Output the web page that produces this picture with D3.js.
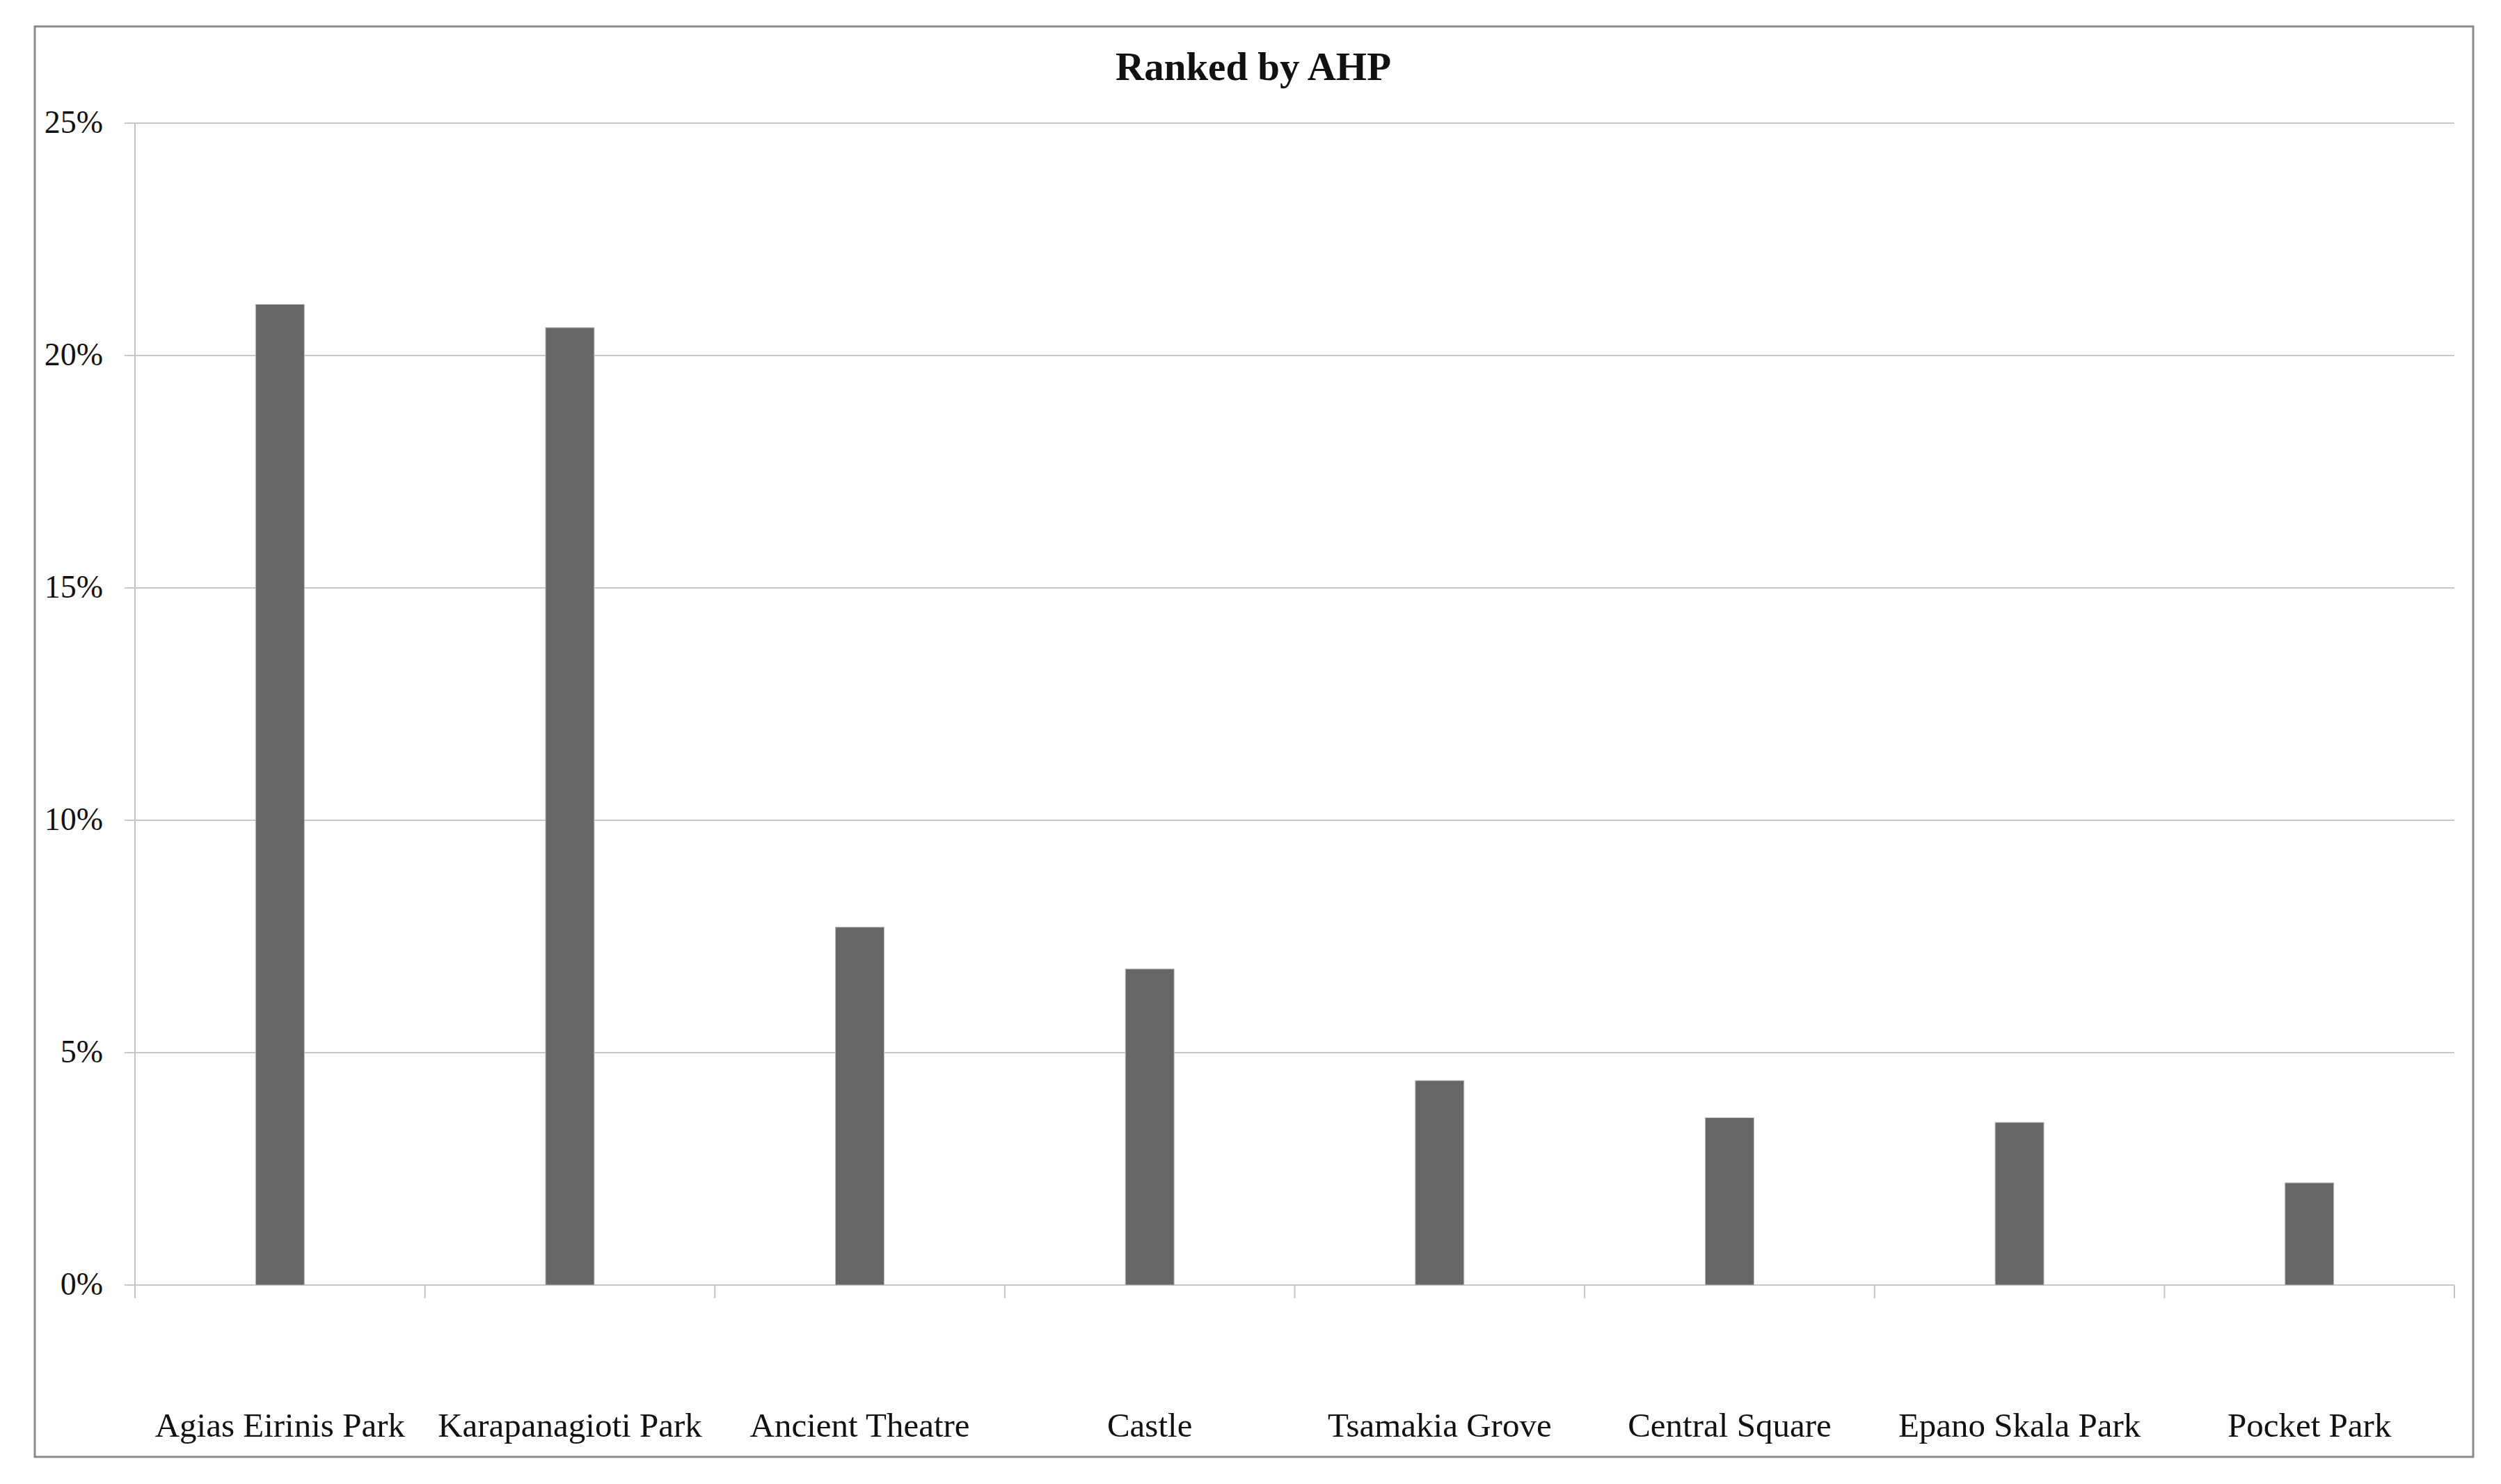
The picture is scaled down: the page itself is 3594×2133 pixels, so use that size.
<!DOCTYPE html>
<html>
<head>
    <title>Ranked by AHP</title>
    <script src="https://d3js.org/d3.v7.min.js"></script>
    <style>
        body { margin: 0; background: #fff; }
        text { font-family: "Liberation Serif", "Times New Roman", serif; fill: #111; }
        .grid line { stroke: #c8c8c8; stroke-width: 2px; }
        .bar { fill: #666666; stroke: #bdbdbd; stroke-width: 1px; }
    </style>
</head>
<body>
    <div id="chart"></div>

    <script>
        // chart data
        let sites = ["Agias Eirinis Park", "Karapanagioti Park", "Ancient Theatre", "Castle",
                     "Tsamakia Grove", "Central Square", "Epano Skala Park", "Pocket Park"];
        let ahpWeights = [21.1, 20.6, 7.7, 6.8, 4.4, 3.6, 3.5, 2.2];
        let yTicks = [0, 5, 10, 15, 20, 25];

        let width = 3594, height = 2133;
        let plotLeft = 194, plotRight = 3527, plotTop = 177, plotBottom = 1847;

        let svg = d3.select("#chart").append("svg")
            .attr("width", width)
            .attr("height", height);

        // outer frame
        svg.append("rect")
            .attr("x", 50).attr("y", 38)
            .attr("width", 3504).attr("height", 2056)
            .attr("fill", "#fff")
            .attr("stroke", "#8c8c8c")
            .attr("stroke-width", 3);

        let x = d3.scaleBand().domain(sites).range([plotLeft, plotRight]).padding(0);
        let y = d3.scaleLinear().domain([0, 25]).range([plotBottom, plotTop]);

        // horizontal gridlines with small outward ticks
        svg.append("g")
            .attr("class", "grid")
            .selectAll("line")
            .data(yTicks)
            .enter().append("line")
            .attr("x1", plotLeft - 15)
            .attr("x2", plotRight)
            .attr("y1", d => y(d))
            .attr("y2", d => y(d));

        // y axis line
        svg.append("line")
            .attr("x1", plotLeft).attr("x2", plotLeft)
            .attr("y1", y(25)).attr("y2", plotBottom + 19)
            .attr("stroke", "#c4c4c4").attr("stroke-width", 2);

        // y labels
        svg.append("g")
            .selectAll("text")
            .data(yTicks)
            .enter().append("text")
            .attr("x", 148)
            .attr("y", d => y(d))
            .attr("dy", "0.3em")
            .attr("text-anchor", "end")
            .style("font-size", "46px")
            .text(d => d + "%");

        // x axis category boundary ticks
        let bounds = sites.map(s => x(s)).concat([plotRight]);
        svg.append("g")
            .selectAll("line")
            .data(bounds)
            .enter().append("line")
            .attr("x1", d => d).attr("x2", d => d)
            .attr("y1", plotBottom).attr("y2", plotBottom + 19)
            .attr("stroke", "#c4c4c4").attr("stroke-width", 2);

        // bars
        let barW = x.bandwidth() * 0.168;
        svg.append("g")
            .selectAll("rect")
            .data(ahpWeights)
            .enter().append("rect")
            .attr("class", "bar")
            .attr("x", (d, i) => x(sites[i]) + x.bandwidth() / 2 - barW / 2)
            .attr("width", barW)
            .attr("y", d => y(d))
            .attr("height", d => y(0) - y(d));

        // category labels
        svg.append("g")
            .selectAll("text")
            .data(sites)
            .enter().append("text")
            .attr("x", d => x(d) + x.bandwidth() / 2)
            .attr("y", 2065)
            .attr("text-anchor", "middle")
            .style("font-size", "49px")
            .text(d => d);

        // title
        svg.append("text")
            .attr("x", 1801)
            .attr("y", 115)
            .attr("text-anchor", "middle")
            .style("font-size", "57px")
            .style("font-weight", "bold")
            .text("Ranked by AHP");
    </script>
</body>
</html>
